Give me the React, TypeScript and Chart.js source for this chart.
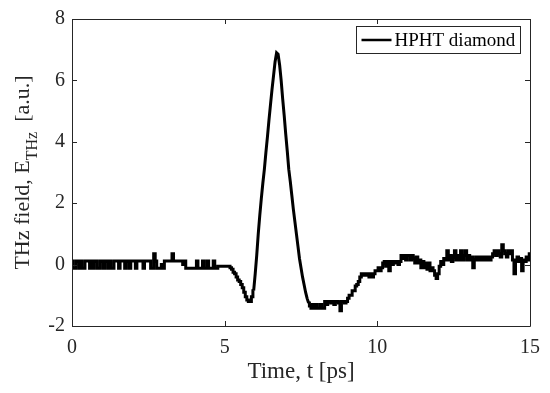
import React, { useEffect, useRef } from "react";
import { Chart, registerables } from "chart.js";

Chart.register(...registerables);

// Sampling grid of the measured trace (ps)
const TIME_START = 0;
const TIME_STEP = 0.05;
// Main pulse interval (drawn as a plain line; the noisy, quantised baseline is drawn stepped)
const PULSE_START = 5.95;
const PULSE_END = 7.75;

// THz field samples [a.u.], every 0.05 ps
const FIELD_00 = [0.12, -0.12, -0.12, 0.12, 0.12, -0.12, 0.12, -0.12, -0.12, 0.12, 0.12, 0.12, -0.12, 0.12, -0.12, 0.12, 0.12, -0.12, -0.12, 0.12];
const FIELD_01 = [0.12, -0.12, 0.12, 0.12, -0.12, 0.12, -0.12, -0.12, 0.12, 0.12, 0.12, -0.12, 0.12, 0.12, 0.12, -0.12, 0.12, 0.12, -0.12, 0.12];
const FIELD_02 = [0.12, 0.12, -0.12, 0.12, 0.12, 0.12, 0.12, -0.12, 0.12, 0.12, 0.12, 0.12, -0.12, -0.12, 0.35, 0.12, -0.12, -0.12, -0.12, 0.0];
const FIELD_03 = [-0.12, 0.12, 0.12, 0.12, 0.12, 0.12, 0.35, 0.12, 0.12, 0.12, 0.12, 0.12, 0.12, 0.0, 0.12, -0.12, -0.12, -0.12, -0.12, -0.12];
const FIELD_04 = [-0.12, -0.12, 0.12, -0.12, -0.12, -0.12, 0.12, -0.12, -0.12, 0.12, -0.12, -0.12, -0.12, 0.12, -0.12, -0.12, -0.05, -0.05, -0.05, -0.05];
const FIELD_05 = [-0.05, -0.05, -0.05, -0.05, -0.1, -0.15, -0.25, -0.3, -0.4, -0.5, -0.55, -0.65, -0.75, -0.9, -1.05, -1.15, -1.2, -1.2, -1.05, -0.85];
const FIELD_06 = [-0.3, 0.3, 1.0, 1.6, 2.15, 2.65, 3.1, 3.65, 4.15, 4.7, 5.2, 5.7, 6.15, 6.6, 6.9, 6.85, 6.5, 6.0, 5.4, 4.85];
const FIELD_07 = [4.25, 3.7, 3.1, 2.7, 2.25, 1.8, 1.4, 1.0, 0.6, 0.2, -0.1, -0.4, -0.65, -0.9, -1.1, -1.25, -1.35, -1.42, -1.3, -1.42];
const FIELD_08 = [-1.3, -1.42, -1.42, -1.3, -1.42, -1.42, -1.2, -1.3, -1.2, -1.2, -1.25, -1.2, -1.3, -1.2, -1.2, -1.25, -1.5, -1.2, -1.2, -1.25];
const FIELD_09 = [-1.2, -1.1, -1.0, -1.0, -0.85, -0.85, -0.7, -0.65, -0.55, -0.4, -0.3, -0.35, -0.3, -0.35, -0.3, -0.4, -0.3, -0.4, -0.3, -0.2];
const FIELD_10 = [-0.2, -0.1, -0.2, -0.1, 0.05, 0.1, -0.05, 0.1, -0.2, 0.1, 0.0, 0.1, 0.05, 0.1, 0.0, 0.1, 0.3, 0.2, 0.3, 0.15];
const FIELD_11 = [0.3, 0.3, 0.15, 0.3, 0.2, 0.05, 0.25, 0.05, 0.15, -0.1, 0.1, -0.1, 0.05, -0.15, 0.05, -0.2, -0.1, -0.2, -0.35, -0.45];
const FIELD_12 = [-0.3, -0.05, 0.1, 0.0, 0.2, 0.15, 0.45, 0.15, 0.3, 0.1, 0.25, 0.45, 0.15, 0.3, 0.15, 0.45, 0.15, 0.3, 0.45, 0.15];
const FIELD_13 = [0.3, 0.15, 0.25, -0.1, 0.15, 0.25, 0.15, 0.25, 0.15, 0.25, 0.15, 0.25, 0.15, 0.25, 0.15, 0.25, 0.35, 0.45, 0.3, 0.45];
const FIELD_14 = [0.35, 0.25, 0.65, 0.45, 0.35, 0.25, 0.45, 0.35, 0.45, 0.15, -0.3, 0.15, 0.25, 0.1, 0.2, -0.2, 0.15, 0.1, 0.25, 0.15];
const FIELD_15 = [0.35];

const FIELD = [
  ...FIELD_00, ...FIELD_01, ...FIELD_02, ...FIELD_03, ...FIELD_04,
  ...FIELD_05, ...FIELD_06, ...FIELD_07, ...FIELD_08, ...FIELD_09,
  ...FIELD_10, ...FIELD_11, ...FIELD_12, ...FIELD_13, ...FIELD_14,
  ...FIELD_15,
];

const X_TICKS = [0, 5, 10, 15];
const Y_TICKS = [-2, 0, 2, 4, 6, 8];
const X_MIN = 0;
const X_MAX = 15;
const Y_MIN = -2;
const Y_MAX = 8;

const SERIES_LABEL = "HPHT diamond";
const X_TITLE = "Time, t [ps]";
const Y_TITLE_MAIN = "THz field, E";
const Y_TITLE_SUB = "THz";
const Y_TITLE_END = "[a.u.]";

const FONT = '"Liberation Serif", "Times New Roman", serif';
const AXIS_COLOR = "#262626";

const framePlugin = {
  id: "matlabFrame",
  afterDraw(chart: any) {
    const { ctx, chartArea, scales } = chart;
    const { left, right, top, bottom } = chartArea;
    const xs = scales.x;
    const ys = scales.y;
    ctx.save();
    // box
    ctx.strokeStyle = AXIS_COLOR;
    ctx.lineWidth = 1;
    ctx.beginPath();
    ctx.rect(Math.round(left) + 0.5, Math.round(top) + 0.5, Math.round(right - left), Math.round(bottom - top));
    ctx.stroke();
    // inward ticks on all four sides
    const tl = 5;
    ctx.beginPath();
    for (const v of X_TICKS) {
      const px = Math.round(xs.getPixelForValue(v)) + 0.5;
      ctx.moveTo(px, bottom);
      ctx.lineTo(px, bottom - tl);
      ctx.moveTo(px, top);
      ctx.lineTo(px, top + tl);
    }
    for (const v of Y_TICKS) {
      const py = Math.round(ys.getPixelForValue(v)) + 0.5;
      ctx.moveTo(left, py);
      ctx.lineTo(left + tl, py);
      ctx.moveTo(right, py);
      ctx.lineTo(right - tl, py);
    }
    ctx.stroke();

    // legend
    const bx = Math.round(right) - 173.5;
    const by = Math.round(top) + 7.5;
    const bw = 164;
    const bh = 27;
    ctx.fillStyle = "#ffffff";
    ctx.fillRect(bx, by, bw, bh);
    ctx.strokeStyle = AXIS_COLOR;
    ctx.lineWidth = 1;
    ctx.strokeRect(bx, by, bw, bh);
    const ly = by + bh / 2;
    ctx.strokeStyle = "#000000";
    ctx.lineWidth = 2.5;
    ctx.beginPath();
    ctx.moveTo(bx + 5, ly);
    ctx.lineTo(bx + 35, ly);
    ctx.stroke();
    ctx.fillStyle = "#000000";
    ctx.font = `19px ${FONT}`;
    ctx.textAlign = "left";
    ctx.textBaseline = "middle";
    ctx.fillText(SERIES_LABEL, bx + 38, ly + 1);

    // x title
    ctx.font = `23px ${FONT}`;
    ctx.textAlign = "center";
    ctx.textBaseline = "alphabetic";
    ctx.fillStyle = "#262626";
    ctx.fillText(X_TITLE, (left + right) / 2, 378);

    // y title with subscript
    const mainFont = `22px ${FONT}`;
    const subFont = `16px ${FONT}`;
    ctx.font = mainFont;
    const w1 = ctx.measureText(Y_TITLE_MAIN).width;
    const w3 = ctx.measureText(Y_TITLE_END).width;
    ctx.font = subFont;
    const w2 = ctx.measureText(Y_TITLE_SUB).width;
    const gap = 10;
    const total = w1 + w2 + gap + w3;
    ctx.translate(29, (top + bottom) / 2);
    ctx.rotate(-Math.PI / 2);
    ctx.textAlign = "left";
    let cx = -total / 2;
    ctx.font = mainFont;
    ctx.fillText(Y_TITLE_MAIN, cx, 0);
    cx += w1;
    ctx.font = subFont;
    ctx.fillText(Y_TITLE_SUB, cx, 8);
    cx += w2 + gap;
    ctx.font = mainFont;
    ctx.fillText(Y_TITLE_END, cx, 0);
    ctx.restore();
  },
};

export default function App() {
  const canvasRef = useRef<HTMLCanvasElement | null>(null);

  useEffect(() => {
    document.body.style.margin = "0";
    const canvas = canvasRef.current;
    if (!canvas) return;
    const eps = 1e-6;
    const times = FIELD.map((_, i) => TIME_START + i * TIME_STEP);
    const inPulse = (t: number) => t >= PULSE_START - eps && t <= PULSE_END + eps;
    const onBaseline = (t: number) => t <= PULSE_START + eps || t >= PULSE_END - eps;
    const baselinePts = FIELD.map((v, i) => ({ x: times[i], y: onBaseline(times[i]) ? v : null }));
    const pulsePts = FIELD.map((v, i) => ({ x: times[i], y: inPulse(times[i]) ? v : null }));
    const common = {
      borderColor: "#000000",
      backgroundColor: "#000000",
      borderWidth: 3,
      pointRadius: 0,
      tension: 0,
      fill: false,
      spanGaps: false,
    };
    const chart = new Chart(canvas, {
      type: "line",
      data: {
        datasets: [
          { ...common, label: SERIES_LABEL, data: baselinePts, stepped: "middle" },
          { ...common, label: SERIES_LABEL, data: pulsePts, stepped: false },
        ],
      },
      plugins: [framePlugin],
      options: {
        animation: false,
        responsive: false,
        maintainAspectRatio: false,
        devicePixelRatio: 1,
        layout: { padding: { top: 15, right: 20, left: 0, bottom: 0 } },
        plugins: {
          legend: { display: false },
          tooltip: { enabled: false },
          title: { display: false },
        },
        scales: {
          x: {
            type: "linear",
            min: X_MIN,
            max: X_MAX,
            afterBuildTicks: (scale: any) => {
              scale.ticks = X_TICKS.map((v) => ({ value: v }));
            },
            afterFit: (scale: any) => {
              scale.height = 67;
            },
            grid: { display: false, drawTicks: false },
            border: { display: false },
            ticks: {
              padding: 10,
              color: "#262626",
              font: { family: FONT, size: 20 },
              maxRotation: 0,
              callback: (v: any) => String(v),
            },
          },
          y: {
            type: "linear",
            min: Y_MIN,
            max: Y_MAX,
            afterBuildTicks: (scale: any) => {
              scale.ticks = Y_TICKS.map((v) => ({ value: v }));
            },
            afterFit: (scale: any) => {
              scale.width = 72;
            },
            grid: { display: false, drawTicks: false },
            border: { display: false },
            ticks: {
              padding: 7,
              color: "#262626",
              font: { family: FONT, size: 20 },
              callback: (v: any) => String(v),
            },
          },
        },
      },
    });
    return () => chart.destroy();
  }, []);

  return (
    <div style={{ width: 550, height: 393, background: "#ffffff" }}>
      <canvas ref={canvasRef} width={550} height={393} style={{ display: "block", width: 550, height: 393 }} />
    </div>
  );
}
